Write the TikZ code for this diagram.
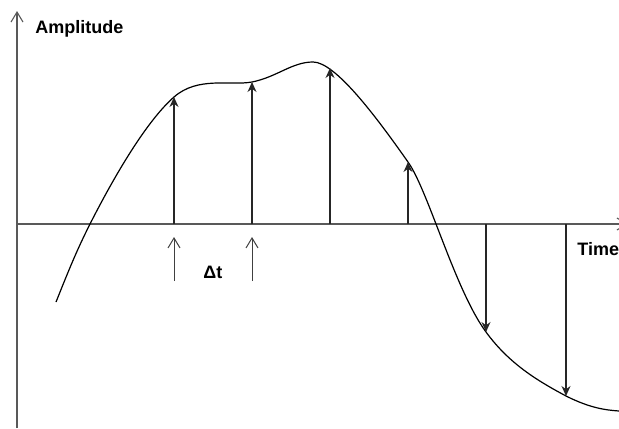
\documentclass[tikz,border=0pt]{standalone}
\usepackage{fontspec}
\setmainfont{Liberation Sans}
\usetikzlibrary{arrows.meta, positioning}
\tikzset{
  axisline/.style = {draw=black!65, line width=0.55pt,
                     -{Straight Barb[length=5pt, width=6pt]}},
  sampline/.style = {draw=black!85, line width=0.55pt,
                     -{Stealth[length=5pt, width=4.5pt]}},
  stepmark/.style = {draw=black!75, line width=0.5pt,
                     -{Straight Barb[length=5pt, width=6pt]}},
  sigcurve/.style = {draw=black, line width=0.6pt},
  axlbl/.style    = {font=\bfseries\fontsize{9}{11}\selectfont, inner sep=0pt},
}
\begin{document}
\begin{tikzpicture}[x=0.5pt, y=-0.5pt]
        \useasboundingbox (0,0) rectangle (619,428);
        % axes
        \coordinate (yfoot) at (17,428);
        \coordinate (ytop)  at (17,11);
        \coordinate (xfoot) at (17,224);
        \coordinate (xtip)  at (628,224);
        \draw[axisline] (yfoot) -- (ytop);
        \draw[axisline] (xfoot) -- (xtip);
        \node[axlbl, anchor=base west] (amp) at (35,33) {Amplitude};
        \node[axlbl, anchor=base west] (time) at (577,255) {Time};

        % signal
        \draw[sigcurve] (56,302) .. controls (72,262) and (78,248) .. (90,224)
            .. controls (120,165) and (150,118) .. (174,97)
            .. controls (198,76) and (230,86) .. (252,82)
            .. controls (277,77) and (292,62) .. (313,62)
            .. controls (335,62) and (375,115) .. (408,162)
            .. controls (428,190) and (455,290) .. (486,332)
            .. controls (510,365) and (540,382) .. (566,396)
            .. controls (590,408) and (605,410) .. (619,411);

        % samples
        \foreach \n/\x/\y in {1/174/97, 2/252/82, 3/330/68, 4/408/162,
                              5/486/332, 6/566/396} {
            \coordinate (b\n) at (\x,224);
            \coordinate (s\n) at (\x,\y);
            \draw[sampline] (b\n) -- (s\n);
        }

        % sampling interval
        \coordinate (d1) at (174,281);
        \coordinate (d2) at (252,281);
        \draw[stepmark] (d1) -- ++(0,-44) coordinate (d1top);
        \draw[stepmark] (d2) -- ++(0,-44) coordinate (d2top);
        \node[axlbl, anchor=base west] (dt) at (203,278) {Δt};
    \end{tikzpicture}
\end{document}
